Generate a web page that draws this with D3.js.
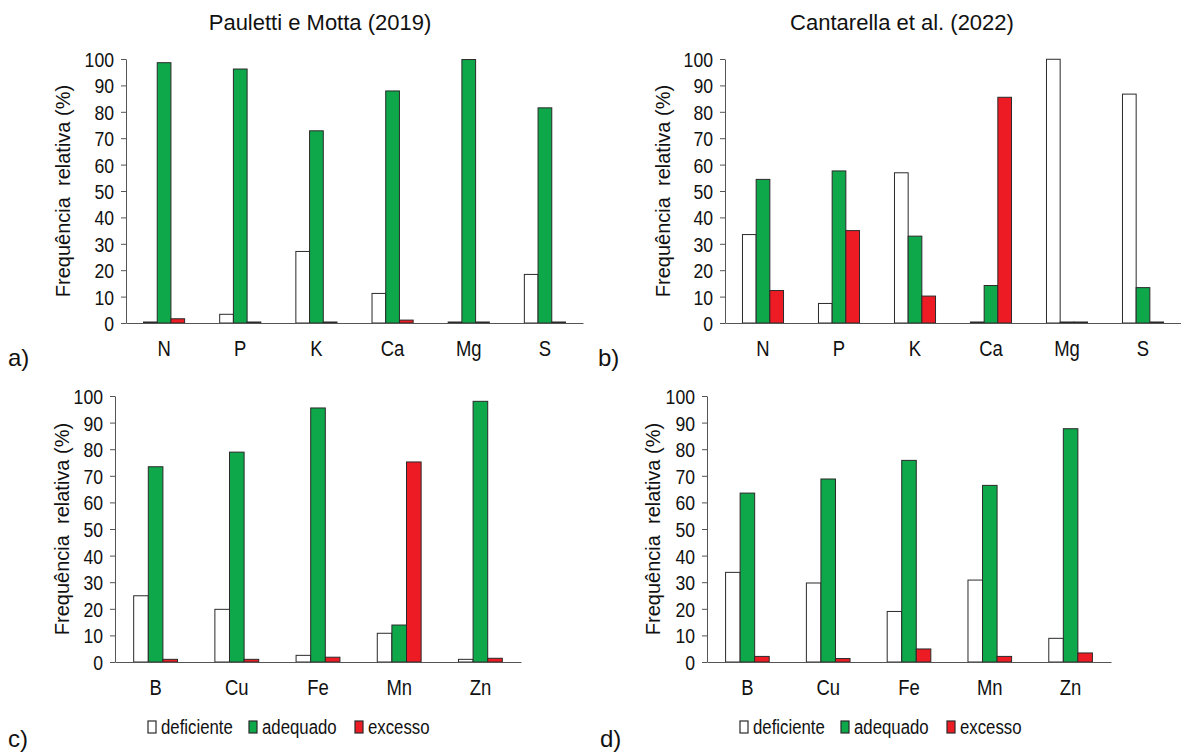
<!DOCTYPE html>
<html><head><meta charset="utf-8">
<script src="https://cdn.jsdelivr.net/npm/d3@7"></script>
<style>
html,body{margin:0;padding:0;background:#fff;}
svg{display:block;font-family:"Liberation Sans",Arial,sans-serif;}
</style></head>
<body>
<svg id="chart" width="1181" height="756"></svg>
<script>
// ---- data ----
const series = ["deficiente", "adequado", "excesso"];
const macroCats = ["N", "P", "K", "Ca", "Mg", "S"];
const microCats = ["B", "Cu", "Fe", "Mn", "Zn"];
const yTicks = [0, 10, 20, 30, 40, 50, 60, 70, 80, 90, 100];

// a) Pauletti e Motta (2019) - macronutrients
const aDeficiente = [0, 3.3, 27.1, 11.2, 0, 18.4];
const aAdequado   = [98.6, 96.2, 72.8, 87.9, 99.8, 81.5];
const aExcesso    = [1.6, 0, 0, 1.1, 0, 0];
// b) Cantarella et al. (2022) - macronutrients
const bDeficiente = [33.5, 7.4, 56.9, 0, 99.9, 86.7];
const bAdequado   = [54.4, 57.6, 32.9, 14.2, 0, 13.4];
const bExcesso    = [12.3, 35.0, 10.2, 85.5, 0, 0];
// c) Pauletti e Motta (2019) - micronutrients
const cDeficiente = [24.9, 19.8, 2.5, 10.8, 1.0];
const cAdequado   = [73.4, 78.9, 95.5, 13.9, 98.0];
const cExcesso    = [1.0, 1.0, 1.8, 75.2, 1.4];
// d) Cantarella et al. (2022) - micronutrients
const dDeficiente = [33.7, 29.7, 19.0, 30.8, 8.9];
const dAdequado   = [63.5, 68.8, 75.8, 66.4, 87.7];
const dExcesso    = [2.1, 1.3, 4.9, 2.1, 3.4];

const titles = ["Pauletti e Motta (2019)", "Cantarella et al. (2022)"];
const panelLetters = ["a)", "b)", "c)", "d)"];
const yLabel = "Frequência  relativa (%)";

// ---- styles ----
const colors = {deficiente: "#ffffff", adequado: "#0ea84b", excesso: "#ed1c24"};
const SX = 0.84; // horizontal condensing of text

const svg = d3.select("#chart");

const panels = [
  {cats: macroCats, vals: [aDeficiente, aAdequado, aExcesso], x0: 126, x1: 583, yTop: 59, yBot: 323, titleOff: 63, letter: [8, 366]},
  {cats: macroCats, vals: [bDeficiente, bAdequado, bExcesso], x0: 725, x1: 1181, yTop: 59, yBot: 323, titleOff: 62, letter: [598, 366]},
  {cats: microCats, vals: [cDeficiente, cAdequado, cExcesso], x0: 115, x1: 521, yTop: 396, yBot: 662, titleOff: 53, letter: [8, 747], legend: true},
  {cats: microCats, vals: [dDeficiente, dAdequado, dExcesso], x0: 707, x1: 1111, yTop: 396, yBot: 662, titleOff: 54, letter: [600, 747], legend: true}
];

panels.forEach((p, pi) => {
  const g = svg.append("g");
  const x = d3.scaleBand().domain(p.cats).range([p.x0, p.x1]).paddingInner(0.46).paddingOuter(0.23);
  const xs = d3.scaleBand().domain(series).range([0, x.bandwidth()]).padding(0);
  const y = d3.scaleLinear().domain([0, 100]).range([p.yBot, p.yTop]);

  // bars
  series.forEach((s, si) => {
    g.append("g").selectAll("rect").data(p.cats).join("rect")
      .attr("x", c => x(c) + xs(s))
      .attr("width", xs.bandwidth())
      .attr("y", (c, i) => Math.min(y(p.vals[si][i]), p.yBot - 1))
      .attr("height", (c, i) => Math.max(p.yBot - y(p.vals[si][i]), 1))
      .attr("fill", colors[s])
      .attr("stroke", "#2a2a2a")
      .attr("stroke-width", 1);
  });

  // y axis
  const ya = g.append("g").attr("transform", `translate(${p.x0},0)`)
    .call(d3.axisLeft(y).tickValues(yTicks).tickSize(5).tickSizeOuter(0));
  ya.select(".domain").attr("stroke", "#555");
  ya.selectAll(".tick line").attr("stroke", "#555");
  ya.selectAll(".tick text")
    .attr("x", -12 / SX).attr("dy", "0.36em")
    .attr("transform", `scale(${SX},1)`)
    .attr("font-size", 21).attr("fill", "#111")
    .attr("font-family", "Liberation Sans, Arial, sans-serif");

  // x axis
  const xa = g.append("g").attr("transform", `translate(0,${p.yBot})`)
    .call(d3.axisBottom(x).tickSize(0).tickSizeOuter(0));
  xa.select(".domain").attr("stroke", "#555");
  xa.selectAll(".tick text")
    .attr("y", 0).attr("dy", 33)
    .attr("transform", `scale(${SX},1)`)
    .attr("font-size", 22).attr("fill", "#111")
    .attr("font-family", "Liberation Sans, Arial, sans-serif");

  // y axis label
  g.append("text")
    .attr("transform", `translate(${p.x0 - p.titleOff},${(p.yTop + p.yBot) / 2}) rotate(-90)`)
    .attr("text-anchor", "middle").attr("dy", "0.35em")
    .attr("font-size", 20).attr("fill", "#111")
    .style("white-space", "pre")
    .text(yLabel);

  // panel letter
  svg.append("text").attr("x", p.letter[0]).attr("y", p.letter[1])
    .attr("font-size", 24).attr("fill", "#111").text(panelLetters[pi]);

  // legend
  if (p.legend) {
    const lx = [p.x0 + 33, p.x0 + 134, p.x0 + 240];
    const ly = 727;
    series.forEach((s, si) => {
      svg.append("rect").attr("x", lx[si]).attr("y", ly - 6).attr("width", 8).attr("height", 12)
        .attr("fill", colors[s]).attr("stroke", "#2a2a2a").attr("stroke-width", 1.2);
      svg.append("text").attr("transform", `translate(${lx[si] + 13},${ly}) scale(0.8,1)`)
        .attr("dy", "0.35em").attr("font-size", 21).attr("fill", "#111").text(s);
    });
  }
});

// titles
[[320, titles[0]], [902, titles[1]]].forEach(([cx, t]) => {
  svg.append("text").attr("transform", `translate(${cx},22)`)
    .attr("text-anchor", "middle").attr("dy", "0.35em")
    .attr("font-size", 22).attr("fill", "#111").text(t);
});
</script>
</body></html>
